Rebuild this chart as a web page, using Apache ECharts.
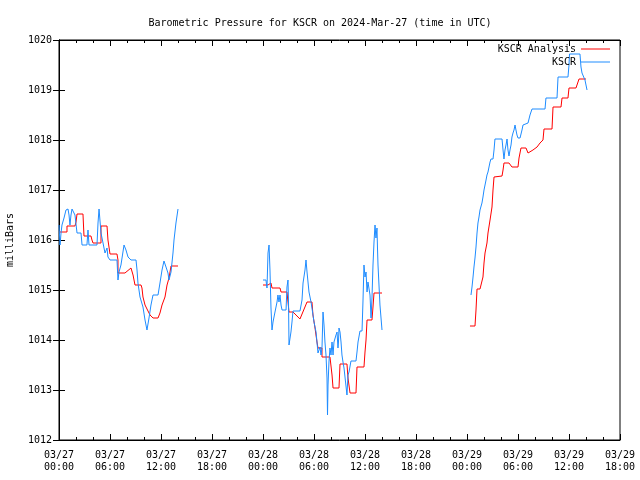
<!DOCTYPE html>
<html><head><meta charset="utf-8">
<script src="https://cdn.jsdelivr.net/npm/echarts@6/dist/echarts.min.js"></script>
<style>html,body{margin:0;padding:0;background:#fff}#c{width:640px;height:480px}</style>
</head><body><div id="c"></div>
<script>
// time in hours since 03/27 00:00 UTC, pressure in millibars
const analysisSeg1 = [[0,1016.16],[0.94,1016.16],[0.94,1016.28],[1.88,1016.28],[2.00,1016.36],[2.12,1016.52],[2.82,1016.52],[2.94,1016.08],[3.76,1016.08],[3.88,1016.00],[4.00,1015.94],[4.94,1015.94],[4.94,1016.28],[5.65,1016.28],[5.76,1016.00],[6.00,1015.72],[6.82,1015.72],[6.94,1015.60],[6.94,1015.34],[7.76,1015.34],[8.47,1015.44],[8.71,1015.30],[8.94,1015.10],[9.65,1015.10],[9.76,1015.04],[9.88,1014.86],[10.12,1014.70],[10.24,1014.66],[10.47,1014.58],[10.71,1014.50],[11.06,1014.44],[11.65,1014.44],[11.88,1014.54],[12.12,1014.70],[12.47,1014.86],[12.71,1015.10],[12.94,1015.24],[13.18,1015.48],[14.00,1015.48]];
const analysisSeg2 = [[24.00,1015.10],[24.59,1015.10],[24.71,1015.14],[24.94,1015.14],[25.06,1015.04],[26.00,1015.04],[26.12,1014.96],[26.82,1014.96],[27.06,1014.56],[27.53,1014.56],[28.35,1014.42],[29.18,1014.76],[29.76,1014.76],[29.88,1014.50],[30.12,1014.24],[30.35,1013.96],[30.47,1013.84],[30.94,1013.84],[30.94,1013.66],[31.88,1013.66],[32.12,1013.30],[32.24,1013.04],[32.94,1013.04],[33.06,1013.52],[33.88,1013.52],[34.00,1013.24],[34.24,1012.94],[34.94,1012.94],[35.06,1013.46],[35.88,1013.46],[36.00,1013.76],[36.12,1014.00],[36.24,1014.40],[36.82,1014.40],[36.94,1014.66],[37.06,1014.94],[38.00,1014.94]];
const analysisSeg3 = [[48.35,1014.28],[48.94,1014.28],[49.06,1014.60],[49.18,1015.02],[49.53,1015.02],[49.65,1015.06],[49.88,1015.26],[50.00,1015.54],[50.12,1015.74],[50.35,1015.94],[50.47,1016.14],[50.71,1016.40],[50.94,1016.66],[51.06,1017.00],[51.18,1017.26],[51.29,1017.28],[52.12,1017.28],[52.24,1017.40],[52.35,1017.54],[52.94,1017.54],[53.06,1017.52],[53.29,1017.46],[54.00,1017.46],[54.12,1017.64],[54.35,1017.84],[54.94,1017.84],[55.18,1017.74],[55.41,1017.74],[55.76,1017.80],[56.24,1017.86],[56.59,1017.94],[56.94,1018.00],[57.06,1018.22],[58.00,1018.22],[58.12,1018.66],[59.06,1018.66],[59.18,1018.84],[59.88,1018.84],[60.00,1019.04],[60.82,1019.04],[60.94,1019.10],[61.06,1019.10],[61.18,1019.22],[62.00,1019.22]];

const kscrSeg1 = [[0,1016.30],[0.12,1015.90],[0.24,1016.14],[0.35,1016.30],[0.59,1016.44],[0.82,1016.60],[1.06,1016.62],[1.18,1016.50],[1.29,1016.30],[1.41,1016.50],[1.53,1016.62],[1.76,1016.62],[1.88,1016.50],[2.12,1016.14],[2.59,1016.14],[2.71,1015.90],[3.29,1015.90],[3.41,1016.20],[3.53,1015.90],[4.47,1015.90],[4.59,1016.34],[4.71,1016.62],[4.94,1016.14],[5.18,1015.94],[5.41,1015.74],[5.65,1015.84],[5.76,1015.66],[6.00,1015.60],[6.82,1015.60],[6.94,1015.20],[7.06,1015.36],[7.29,1015.50],[7.65,1015.90],[7.88,1015.80],[8.12,1015.66],[8.47,1015.60],[9.06,1015.60],[9.18,1015.40],[9.29,1015.14],[9.53,1014.86],[9.88,1014.66],[10.12,1014.40],[10.35,1014.20],[10.59,1014.44],[10.82,1014.70],[11.06,1014.90],[11.65,1014.90],[11.88,1015.14],[12.12,1015.40],[12.35,1015.58],[12.59,1015.46],[12.82,1015.34],[12.94,1015.20],[13.18,1015.36],[13.41,1015.74],[13.53,1016.00],[13.76,1016.34],[14.00,1016.62]];
const kscrSeg2 = [[24.00,1015.20],[24.35,1015.20],[24.47,1015.04],[24.59,1015.74],[24.71,1015.90],[24.82,1015.40],[24.94,1014.64],[25.06,1014.20],[25.18,1014.36],[25.41,1014.56],[25.65,1014.76],[25.76,1014.90],[25.88,1014.76],[26.00,1014.90],[26.12,1014.70],[26.24,1014.60],[26.71,1014.60],[26.82,1015.06],[26.94,1015.20],[27.00,1014.76],[27.06,1013.90],[27.29,1014.16],[27.41,1014.36],[27.53,1014.58],[28.35,1014.58],[28.59,1014.80],[28.71,1015.14],[28.94,1015.40],[29.06,1015.60],[29.18,1015.36],[29.41,1014.96],[29.65,1014.76],[29.76,1014.64],[30.00,1014.36],[30.24,1014.16],[30.35,1013.96],[30.47,1013.74],[30.71,1013.86],[30.82,1013.70],[30.94,1013.84],[31.06,1014.56],[31.18,1014.30],[31.29,1013.96],[31.41,1013.70],[31.53,1013.24],[31.59,1012.50],[31.65,1013.10],[31.76,1013.56],[31.88,1013.84],[32.00,1013.70],[32.12,1013.96],[32.24,1013.70],[32.35,1013.96],[32.59,1014.10],[32.71,1014.16],[32.82,1013.84],[32.88,1013.96],[32.94,1014.24],[33.06,1014.16],[33.18,1013.96],[33.29,1013.70],[33.41,1013.56],[33.53,1013.44],[33.76,1013.44],[33.88,1012.90],[34.00,1013.30],[34.12,1013.36],[34.35,1013.58],[34.94,1013.58],[35.06,1013.76],[35.18,1013.96],[35.41,1014.18],[35.65,1014.18],[35.76,1014.76],[35.88,1015.50],[36.00,1015.26],[36.12,1015.36],[36.24,1014.96],[36.35,1015.16],[36.59,1014.90],[36.71,1014.44],[36.82,1014.84],[36.94,1015.50],[37.06,1015.96],[37.18,1016.30],[37.29,1016.04],[37.41,1016.24],[37.47,1015.84],[37.53,1015.50],[37.76,1014.70],[38.00,1014.20]];
const kscrSeg3 = [[48.47,1014.90],[48.59,1015.06],[48.71,1015.26],[48.82,1015.46],[48.94,1015.64],[49.06,1015.86],[49.18,1016.14],[49.29,1016.34],[49.41,1016.46],[49.53,1016.60],[49.76,1016.74],[49.88,1016.86],[50.00,1017.00],[50.12,1017.10],[50.24,1017.20],[50.35,1017.30],[50.47,1017.36],[50.59,1017.46],[50.71,1017.56],[50.82,1017.62],[51.06,1017.62],[51.18,1017.80],[51.29,1018.02],[52.12,1018.02],[52.24,1017.80],[52.35,1017.62],[52.47,1017.80],[52.59,1017.90],[52.71,1018.02],[52.82,1017.80],[52.94,1017.68],[53.06,1017.80],[53.18,1017.90],[53.29,1018.06],[53.41,1018.14],[53.53,1018.20],[53.65,1018.30],[53.76,1018.20],[53.88,1018.10],[54.00,1018.04],[54.24,1018.04],[54.47,1018.20],[54.59,1018.30],[55.18,1018.34],[55.41,1018.50],[55.65,1018.62],[57.18,1018.62],[57.29,1018.84],[58.59,1018.84],[58.71,1019.26],[59.88,1019.26],[60.00,1019.50],[60.06,1019.72],[61.29,1019.72],[61.41,1019.46],[61.53,1019.34],[61.65,1019.34],[61.88,1019.20],[62.12,1019.00]];

const titleText = 'Barometric Pressure for KSCR on 2024-Mar-27 (time in UTC)';
const seriesNames = ['KSCR Analysis', 'KSCR'];
const yLabel = 'milliBars';
const xMin = 0, xMax = 66, xStep = 6;
const yMin = 1012, yMax = 1020, yStep = 1;

function joinSegs(segs) {
  const out = [];
  segs.forEach((s, i) => {
    if (i > 0) out.push([s[0][0] - 0.01, '-']);
    s.forEach(p => out.push(p));
  });
  return out;
}
function fmtTime(v) {
  const day = 27 + Math.floor(v / 24);
  const h = v - Math.floor(v / 24) * 24;
  return '03/' + day + '\n' + String(h).padStart(2, '0') + ':00';
}
const FONT = 'DejaVu Sans Mono';
const chart = echarts.init(document.getElementById('c'));
chart.setOption({
  animation: false,
  backgroundColor: '#fff',
  textStyle: { fontFamily: FONT },
  title: { text: titleText, left: 'center', top: 13,
    textStyle: { fontFamily: FONT, fontSize: 10, fontWeight: 'normal', color: '#000' } },
  grid: { left: 59, right: 20, top: 40, bottom: 40, show: true, borderColor: '#000', borderWidth: 1,
    containLabel: false, outerBoundsMode: 'none' },
  legend: [
    { data: [seriesNames[0]], orient: 'vertical', right: 30, top: 44, align: 'right', icon: 'rect',
      itemWidth: 29, itemHeight: 1, itemGap: 0, selectedMode: false, padding: 0,
      textStyle: { fontFamily: FONT, fontSize: 10, color: '#000' } },
    { data: [seriesNames[1]], orient: 'vertical', right: 30, top: 57, align: 'right', icon: 'rect',
      itemWidth: 29, itemHeight: 1, itemGap: 0, selectedMode: false, padding: 0,
      textStyle: { fontFamily: FONT, fontSize: 10, color: '#000' } }
  ],
  xAxis: [
    { type: 'value', min: xMin, max: xMax, interval: xStep, position: 'bottom',
      axisLine: { lineStyle: { color: '#000' } }, splitLine: { show: false },
      axisTick: { inside: true, length: 6, lineStyle: { color: '#000' } },
      minorTick: { show: true, splitNumber: 3, length: 3, lineStyle: { color: '#000' } },
      axisLabel: { formatter: fmtTime, color: '#000', fontFamily: FONT, fontSize: 10, lineHeight: 12, margin: 9 } },
    { type: 'value', min: xMin, max: xMax, interval: xStep, position: 'top',
      axisLine: { lineStyle: { color: '#000' } }, splitLine: { show: false },
      axisTick: { inside: true, length: 6, lineStyle: { color: '#000' } },
      minorTick: { show: true, splitNumber: 3, length: 3, lineStyle: { color: '#000' } },
      axisLabel: { show: false } }
  ],
  yAxis: [
    { type: 'value', min: yMin, max: yMax, interval: yStep, position: 'left',
      name: yLabel, nameLocation: 'middle', nameGap: 44,
      nameTextStyle: { fontFamily: FONT, fontSize: 10, color: '#000' },
      axisLine: { show: true, lineStyle: { color: '#000' } }, splitLine: { show: false },
      axisTick: { show: true, inside: true, length: 6, lineStyle: { color: '#000' } },
      axisLabel: { color: '#000', fontFamily: FONT, fontSize: 10, margin: 7, formatter: v => String(v) } },
    { type: 'value', min: yMin, max: yMax, interval: yStep, position: 'right',
      axisLine: { show: true, lineStyle: { color: '#000' } }, splitLine: { show: false },
      axisTick: { show: true, inside: true, length: 6, lineStyle: { color: '#000' } },
      axisLabel: { show: false } }
  ],
  series: [
    { name: seriesNames[0], type: 'line', data: joinSegs([analysisSeg1, analysisSeg2, analysisSeg3]),
      showSymbol: false, connectNulls: false, color: '#ff0000',
      lineStyle: { width: 1, color: '#ff0000' }, itemStyle: { color: '#ff0000' } },
    { name: seriesNames[1], type: 'line', data: joinSegs([kscrSeg1, kscrSeg2, kscrSeg3]),
      showSymbol: false, connectNulls: false, color: '#1e8cff',
      lineStyle: { width: 1, color: '#1e8cff' }, itemStyle: { color: '#1e8cff' } }
  ]
});
</script>
</body></html>
